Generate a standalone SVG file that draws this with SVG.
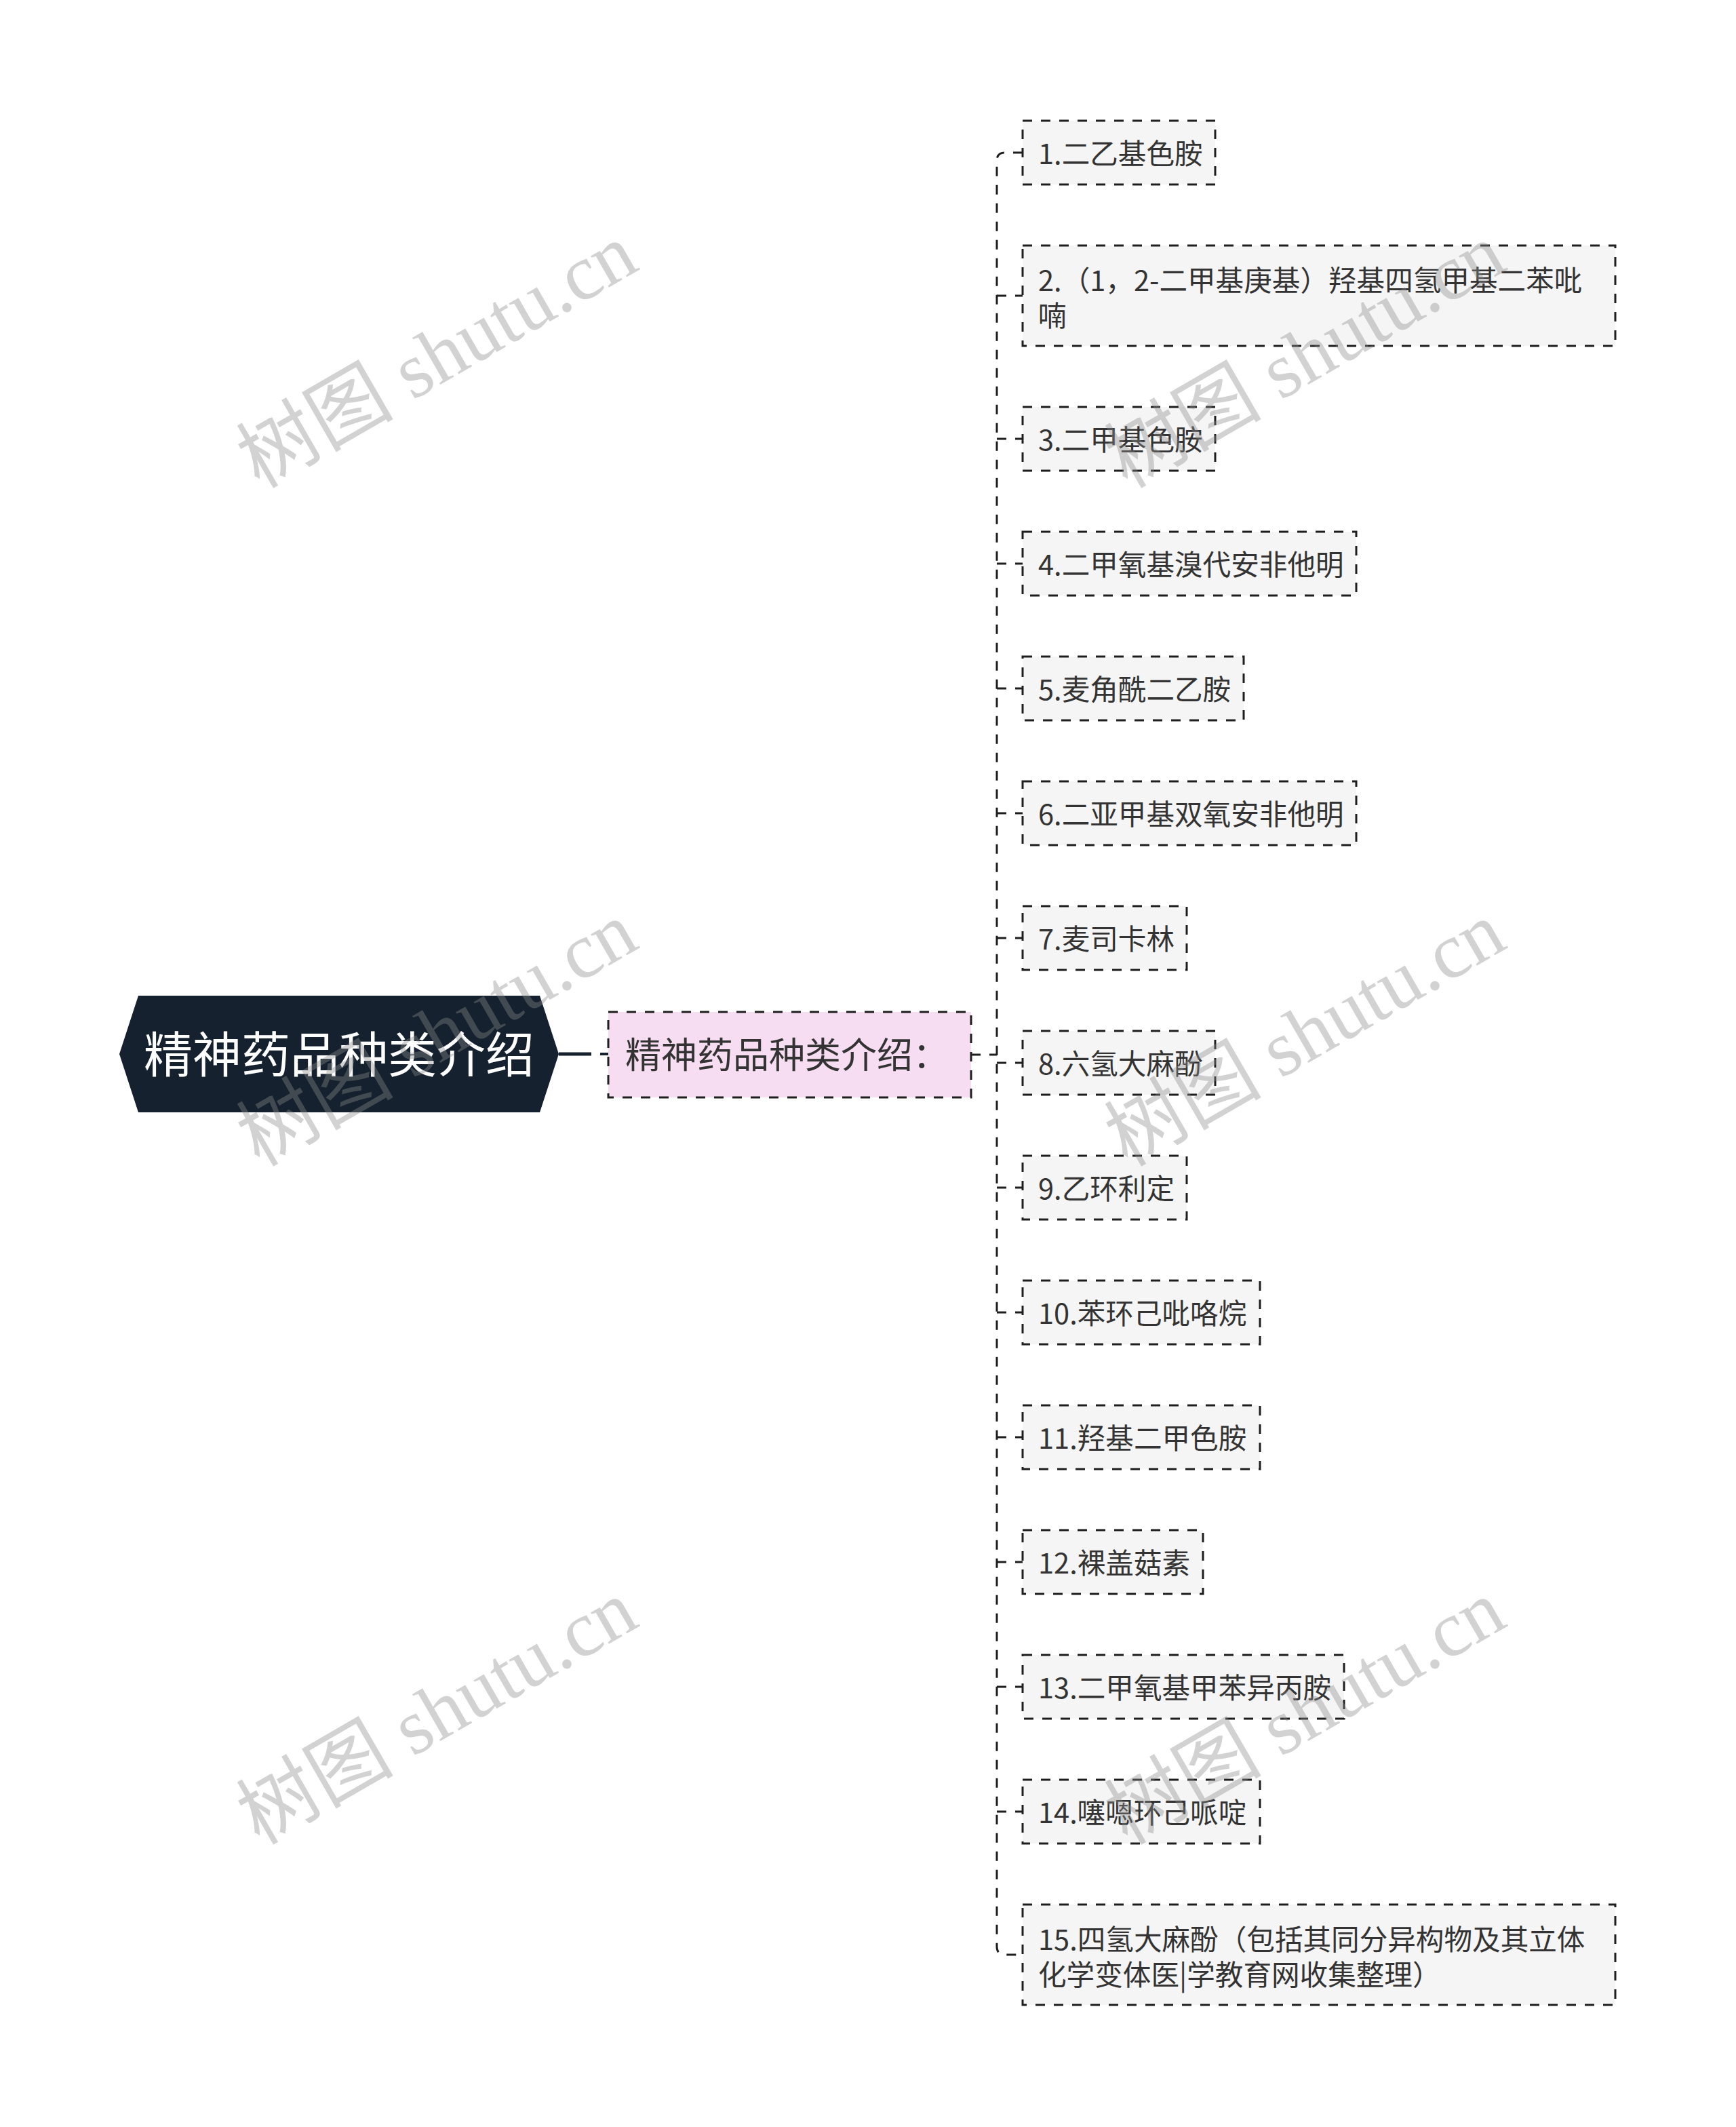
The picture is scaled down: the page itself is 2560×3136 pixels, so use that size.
<svg xmlns="http://www.w3.org/2000/svg" width="2560" height="3136" viewBox="0 0 2560 3136">
<style>
.bg{fill:#ffffff}
.leaf rect{fill:#f5f5f5;stroke:#1e1e1e;stroke-width:3;stroke-dasharray:14 13}
.leaf text{font-family:"Noto Sans CJK SC","Noto Sans",sans-serif;font-size:41.6px;fill:#333333}
.conn{fill:none;stroke:#1e1e1e;stroke-width:3;stroke-dasharray:14 13}
.wm{font-family:"Liberation Serif","Noto Sans CJK SC",serif;font-size:116px;fill:#8a8a8a;opacity:0.38}
</style>
<rect class="bg" x="0" y="0" width="2560" height="3136"/>

<g id="connectors">
  <line x1="824" y1="1554" x2="872" y2="1554" stroke="#15212f" stroke-width="5"/>
  <line x1="885" y1="1554" x2="897" y2="1554" stroke="#15212f" stroke-width="4"/>
  <line class="conn" x1="1432" y1="1555" x2="1470" y2="1555"/>
  <path class="conn" d="M1508 225 H1482 Q1470 225 1470 237 V2870 Q1470 2882 1482 2882 H1508"/>
  <g class="conn">
    <line x1="1470" y1="436" x2="1508" y2="436"/>
    <line x1="1470" y1="647" x2="1508" y2="647"/>
    <line x1="1470" y1="831" x2="1508" y2="831"/>
    <line x1="1470" y1="1015" x2="1508" y2="1015"/>
    <line x1="1470" y1="1199" x2="1508" y2="1199"/>
    <line x1="1470" y1="1383" x2="1508" y2="1383"/>
    <line x1="1470" y1="1567" x2="1508" y2="1567"/>
    <line x1="1470" y1="1751" x2="1508" y2="1751"/>
    <line x1="1470" y1="1935" x2="1508" y2="1935"/>
    <line x1="1470" y1="2119" x2="1508" y2="2119"/>
    <line x1="1470" y1="2303" x2="1508" y2="2303"/>
    <line x1="1470" y1="2487" x2="1508" y2="2487"/>
    <line x1="1470" y1="2671" x2="1508" y2="2671"/>
  </g>
</g>

<g id="root">
  <polygon points="176,1554 204,1468 796,1468 824,1554 796,1640 204,1640" fill="#15212f"/>
  <text x="500" y="1581" text-anchor="middle" font-family="Noto Sans CJK SC, Noto Sans, sans-serif" font-size="72" fill="#ffffff">精神药品种类介绍</text>
</g>

<g id="child">
  <rect x="897" y="1492" width="535" height="126" fill="#f6ddf1" stroke="#1e1e1e" stroke-width="3" stroke-dasharray="14 13"/>
  <text x="922" y="1575" font-family="Noto Sans CJK SC, Noto Sans, sans-serif" font-size="53" fill="#333333">精神药品种类介绍：</text>
</g>

<g id="leaf1" class="leaf"><rect x="1508" y="178" width="284" height="94"/><text x="1531" y="242">1.二乙基色胺</text></g>
<g id="leaf2" class="leaf"><rect x="1508" y="362" width="874" height="148"/><text x="1531" y="429">2.（1，2-二甲基庚基）羟基四氢甲基二苯吡</text><text x="1531" y="481">喃</text></g>
<g id="leaf3" class="leaf"><rect x="1508" y="600" width="284" height="94"/><text x="1531" y="664">3.二甲基色胺</text></g>
<g id="leaf4" class="leaf"><rect x="1508" y="784" width="492" height="94"/><text x="1531" y="848">4.二甲氧基溴代安非他明</text></g>
<g id="leaf5" class="leaf"><rect x="1508" y="968" width="326" height="94"/><text x="1531" y="1032">5.麦角酰二乙胺</text></g>
<g id="leaf6" class="leaf"><rect x="1508" y="1152" width="492" height="94"/><text x="1531" y="1216">6.二亚甲基双氧安非他明</text></g>
<g id="leaf7" class="leaf"><rect x="1508" y="1336" width="242" height="94"/><text x="1531" y="1400">7.麦司卡林</text></g>
<g id="leaf8" class="leaf"><rect x="1508" y="1520" width="284" height="94"/><text x="1531" y="1584">8.六氢大麻酚</text></g>
<g id="leaf9" class="leaf"><rect x="1508" y="1704" width="242" height="94"/><text x="1531" y="1768">9.乙环利定</text></g>
<g id="leaf10" class="leaf"><rect x="1508" y="1888" width="350" height="94"/><text x="1531" y="1952">10.苯环己吡咯烷</text></g>
<g id="leaf11" class="leaf"><rect x="1508" y="2072" width="350" height="94"/><text x="1531" y="2136">11.羟基二甲色胺</text></g>
<g id="leaf12" class="leaf"><rect x="1508" y="2256" width="266" height="94"/><text x="1531" y="2320">12.裸盖菇素</text></g>
<g id="leaf13" class="leaf"><rect x="1508" y="2440" width="474" height="94"/><text x="1531" y="2504">13.二甲氧基甲苯异丙胺</text></g>
<g id="leaf14" class="leaf"><rect x="1508" y="2624" width="350" height="94"/><text x="1531" y="2688">14.噻嗯环己哌啶</text></g>
<g id="leaf15" class="leaf"><rect x="1508" y="2808" width="874" height="148"/><text x="1531" y="2875">15.四氢大麻酚（包括其同分异构物及其立体</text><text x="1531" y="2927">化学变体医|学教育网收集整理）</text></g>

<g id="watermarks">
  <text class="wm" text-anchor="middle" transform="translate(644,524) rotate(-30)" y="40">树图 shutu.cn</text>
  <text class="wm" text-anchor="middle" transform="translate(644,1524) rotate(-30)" y="40">树图 shutu.cn</text>
  <text class="wm" text-anchor="middle" transform="translate(644,2524) rotate(-30)" y="40">树图 shutu.cn</text>
  <text class="wm" text-anchor="middle" transform="translate(1924,524) rotate(-30)" y="40">树图 shutu.cn</text>
  <text class="wm" text-anchor="middle" transform="translate(1924,1524) rotate(-30)" y="40">树图 shutu.cn</text>
  <text class="wm" text-anchor="middle" transform="translate(1924,2524) rotate(-30)" y="40">树图 shutu.cn</text>
</g>
</svg>
